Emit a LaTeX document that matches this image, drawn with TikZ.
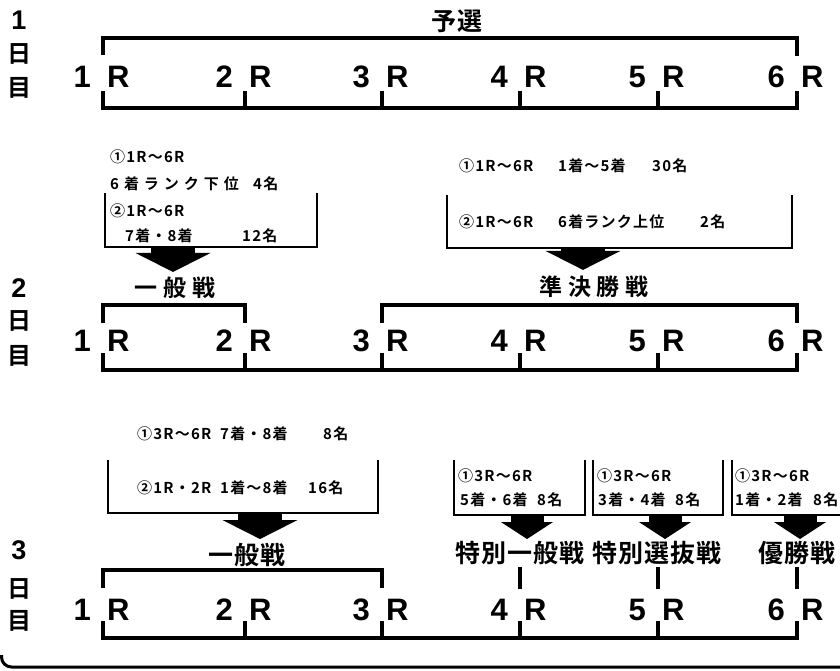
\documentclass[tikz,border=0pt]{standalone}
\usepackage{fontspec}
\setmainfont{Noto Sans CJK JP}[BoldFont={* Bold}]
\newfontfamily\latinbold{Liberation Sans}
\usetikzlibrary{positioning,arrows.meta}

\tikzset{
  brk/.style={line width=4pt, line cap=rect},
  boxl/.style={line width=2.6pt},
  fat/.style={line width=44pt, -{Triangle[width=75pt,length=19pt,line width=0pt]}},
  thin fat/.style={line width=33pt, -{Triangle[width=52pt,length=17pt,line width=0pt]}},
  rnum/.style={font=\latinbold\bfseries\fontsize{31}{31}\selectfont, inner sep=0pt},
  daynum/.style={font=\latinbold\bfseries\fontsize{27}{27}\selectfont, inner sep=0pt},
  dayj/.style={font=\bfseries\fontsize{24}{24}\selectfont, inner sep=0pt},
  ttl/.style={font=\bfseries\fontsize{25}{25}\selectfont\addfontfeature{LetterSpace=4}, inner sep=0pt},
  wttl/.style={font=\bfseries\fontsize{23}{23}\selectfont\addfontfeature{LetterSpace=25}, inner sep=0pt},
  sm/.style={font=\bfseries\fontsize{15}{15}\selectfont\addfontfeature{LetterSpace=8}, inner sep=0pt, anchor=west},
  wsm/.style={sm, font=\bfseries\fontsize{15}{15}\selectfont\addfontfeature{LetterSpace=33}}
}

\begin{document}
\begin{tikzpicture}[x=1pt,y=-1pt]
\useasboundingbox (0,0) rectangle (840,671);

% days
\node[daynum] (d1) at (19,20) {1};
\node[dayj] (d1b) at (20,54) {日};
\node[dayj] (d1c) at (20,88) {目};
\node[daynum] (d2) at (19,288) {2};
\node[dayj] (d2b) at (20,321) {日};
\node[dayj] (d2c) at (20,356) {目};
\node[daynum] (d3) at (19,550) {3};
\node[dayj] (d3b) at (20,589) {日};
\node[dayj] (d3c) at (20,621) {目};

% races
\foreach \d/\y/\yb in {1/77/108,2/341/370,3/610/638} {
  \foreach \n/\x in {1/103,2/245,3/382,4/520,5/658,6/797} {
    \node[rnum, anchor=east] (n\d\n) at (\x-12,\y) {\n};
    \node[rnum, anchor=west] (r\d\n) at (\x+4,\y) {R};
    \coordinate (l\d\n) at (\x,\yb);
    \draw[brk] (l\d\n) -- ++(0,-15);
  }
  \draw[brk] (l\d1) -- (l\d6);
}

% day 1
\coordinate (u11) at (103,38);
\coordinate (u16) at (797,38);
\draw[brk] (u11) ++(0,15) -- (u11) -- (u16) -- ++(0,16);
\node[ttl] (t1) at (457,21) {予選};

% day 2
\draw[boxl] (105,193) |- (317,247) -- (317,193);
\node[sm] (q1) at (110,157) {①1R〜6R};
\node[wsm] (q2) at (110,184) {6着ランク下位};
\node[sm] (q3) at (253,184) {4名};
\node[sm] (q4) at (110,211) {②1R〜6R};
\node[sm] (q5) at (125,236) {7着・8着};
\node[sm] (q6) at (242,236) {12名};
\coordinate (s2a) at (173,247);

\draw[boxl] (447,195) |- (792,248) -- (792,195);
\node[sm] (p1) at (459,166) {①1R〜6R};
\node[sm] (p2) at (558,166) {1着〜5着};
\node[sm] (p3) at (652,166) {30名};
\node[sm] (p4) at (459,222) {②1R〜6R};
\node[sm] (p5) at (558,222) {6着ランク上位};
\node[sm] (p6) at (700,222) {2名};
\coordinate (s2b) at (583,248);

\node[wttl] (t2a) at (175,288) {一般戦};
\node[wttl] (t2b) at (594,287) {準決勝戦};
\draw[fat, shorten >=5pt] (s2a) -- (t2a.north -| s2a);
\draw[fat, shorten >=6pt] (s2b) -- (t2b.north -| s2b);

\coordinate (v21) at (103,305);
\coordinate (v22) at (245,305);
\coordinate (v23) at (382,305);
\coordinate (v26) at (797,305);
\draw[brk] (v21) ++(0,16) -- (v21) -- (v22) -- ++(0,16);
\draw[brk] (v23) ++(0,16) -- (v23) -- (v26) -- ++(0,16);

% day 3
\draw[boxl] (108,460) |- (378,513) -- (378,460);
\node[sm] (k1) at (137,434) {①3R〜6R};
\node[sm] (k2) at (220,434) {7着・8着};
\node[sm] (k3) at (323,434) {8名};
\node[sm] (k4) at (137,488) {②1R・2R};
\node[sm] (k5) at (220,488) {1着〜8着};
\node[sm] (k6) at (308,488) {16名};
\coordinate (s3a) at (260,513);

\draw[boxl] (454,460) |- (585,515) -- (585,460);
\node[sm] (ka1) at (458,476) {①3R〜6R};
\node[sm] (ka2) at (460,500) {5着・6着};
\node[sm] (ka3) at (537,500) {8名};
\coordinate (s3b) at (527,515);

\draw[boxl] (593,460) |- (723,515) -- (723,460);
\node[sm] (kb1) at (597,476) {①3R〜6R};
\node[sm] (kb2) at (598,500) {3着・4着};
\node[sm] (kb3) at (675,500) {8名};
\coordinate (s3c) at (665,515);

\draw[boxl] (732,460) |- (845,515);
\node[sm] (kc1) at (735,476) {①3R〜6R};
\node[sm] (kc2) at (735,500) {1着・2着};
\node[sm] (kc3) at (813,500) {8名};
\coordinate (s3d) at (800,515);

\node[ttl] (t3a) at (247,555) {一般戦};
\node[ttl] (t3b) at (520,553) {特別一般戦};
\node[ttl] (t3c) at (657,553) {特別選抜戦};
\node[ttl] (t3d) at (797,553) {優勝戦};
\draw[fat, shorten >=4pt] (s3a) -- (t3a.north -| s3a);
\draw[thin fat, shorten >=2pt] (s3b) -- (t3b.north -| s3b);
\draw[thin fat, shorten >=2pt] (s3c) -- (t3c.north -| s3c);
\draw[thin fat, shorten >=2pt] (s3d) -- (t3d.north -| s3d);

\coordinate (v31) at (103,570);
\coordinate (v33) at (382,570);
\draw[brk] (v31) ++(0,16) -- (v31) -- (v33) -- ++(0,16);
\draw[brk] (t3b.south -| l34) ++(0,4) -- (l34 |- 0,587);
\draw[brk] (t3c.south -| l35) ++(0,4) -- (l35 |- 0,587);
\draw[brk] (t3d.south -| l36) ++(0,4) -- (l36 |- 0,587);

% frame
\draw[line width=3pt, rounded corners=10pt] (1.5,655) |- (845,667);
\end{tikzpicture}
\end{document}
